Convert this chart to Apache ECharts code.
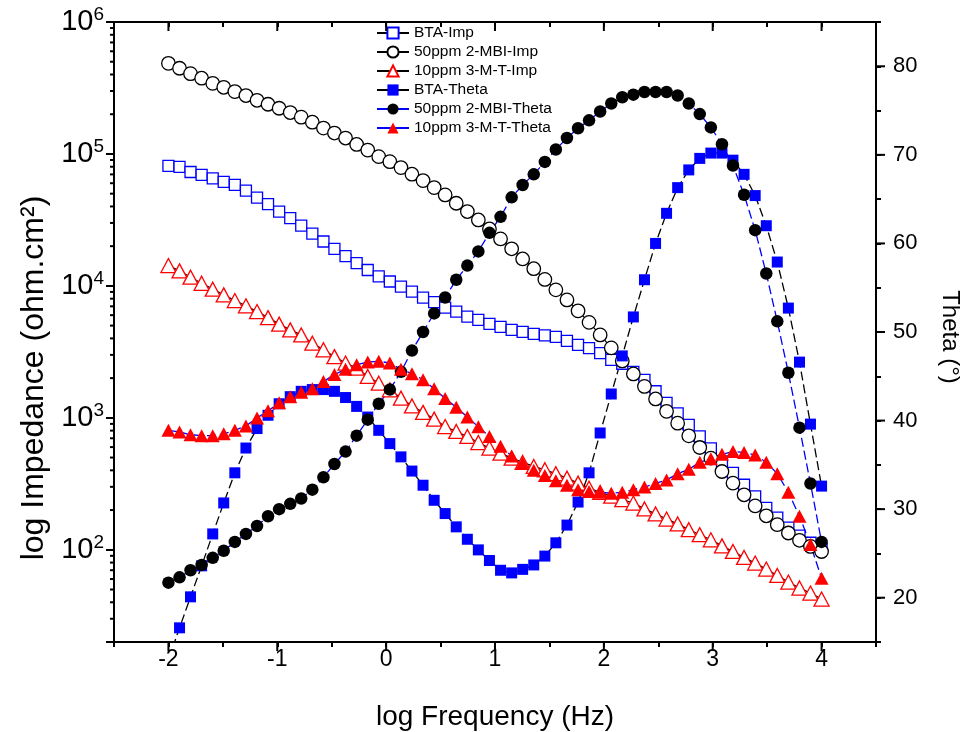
<!DOCTYPE html>
<html><head><meta charset="utf-8">
<script src="https://cdn.jsdelivr.net/npm/echarts@6/dist/echarts.min.js"></script>
<style>html,body{margin:0;padding:0;background:#fff}#c{width:966px;height:732px}</style>
</head><body><div id="c"></div>
<script>
// log10 of frequency (Hz), 60 points
const logFreq = [-2.000,-1.898,-1.797,-1.695,-1.593,-1.492,-1.390,-1.288,-1.186,-1.085,
  -0.983,-0.881,-0.780,-0.678,-0.576,-0.475,-0.373,-0.271,-0.169,-0.068,
  0.034,0.136,0.237,0.339,0.441,0.542,0.644,0.746,0.847,0.949,
  1.051,1.153,1.254,1.356,1.458,1.559,1.661,1.763,1.864,1.966,
  2.068,2.169,2.271,2.373,2.475,2.576,2.678,2.780,2.881,2.983,
  3.085,3.186,3.288,3.390,3.492,3.593,3.695,3.797,3.898,4.000];

// impedance (ohm.cm2)
const btaImp = [81200,79700,73000,69300,65200,61400,58300,52700,46700,41600,
  36600,32600,28600,24900,21700,19100,16800,14900,13200,11800,
  10800,9880,9050,8150,7520,6850,6390,5850,5530,5150,
  4890,4640,4480,4330,4220,4110,3830,3570,3370,3090,
  2750,2570,2230,1940,1590,1300,1080,885,724,587,
  468,383,311,254,208,175,147,128,113,102];
const mbiImp = [486000,446000,406000,375000,343000,320000,297000,277000,255000,238000,
  222000,206000,190000,174000,157000,144000,132000,118000,107000,95400,
  87400,78800,70200,62800,55600,48900,42300,36600,31600,27000,
  22700,19100,16000,13500,11200,9330,7830,6470,5290,4250,
  3390,2700,2150,1730,1390,1120,911,730,596,495,
  392,320,261,215,181,155,134,118,106,97];
const mtImp = [14250,12990,11630,10470,9440,8550,7740,7060,6390,5750,
  5130,4640,4250,3680,3280,2910,2600,2380,2060,1830,
  1630,1410,1230,1100,978,859,788,722,650,590,
  540,495,459,428,404,377,349,320,293,272,
  255,240,226,204,187,171,157,142,130,119,
  107,97.1,87.4,79.3,71.4,63.9,56.9,51.3,47.0,42.3];

// phase angle (degrees)
const btaTheta = [13.0,16.6,20.1,23.6,27.2,30.7,34.1,36.9,39.1,40.6,
  41.9,42.7,43.3,43.5,43.5,43.3,42.6,41.6,40.4,38.9,
  37.4,35.9,34.3,32.7,31.0,29.5,28.0,26.6,25.4,24.2,
  23.1,22.8,23.2,23.7,24.7,26.2,28.2,30.8,34.1,38.6,
  43.0,47.3,51.7,55.9,60.0,63.4,66.3,68.3,69.6,70.2,
  70.2,69.4,67.8,65.4,62.0,57.9,52.7,46.6,39.6,32.6];
const mbiTheta = [21.7,22.3,23.1,23.7,24.5,25.3,26.3,27.2,28.1,29.2,
  30.0,30.6,31.2,32.2,33.6,35.1,36.5,38.3,40.1,41.9,
  43.5,45.5,47.9,50.0,52.1,53.9,55.9,57.5,59.1,61.2,
  63.0,65.2,66.6,67.8,69.2,70.6,71.9,73.0,73.9,74.9,
  75.8,76.5,76.8,77.1,77.1,77.1,76.7,75.8,74.6,73.1,
  71.2,68.8,65.5,61.5,56.6,51.2,45.4,39.2,32.9,26.3];
const mtTheta = [38.9,38.7,38.4,38.3,38.3,38.5,38.9,39.4,40.3,41.1,
  42.0,42.7,43.2,43.6,44.4,45.2,45.8,46.3,46.6,46.7,
  46.5,45.8,45.3,44.6,43.6,42.5,41.5,40.4,39.3,38.2,
  37.1,36.0,35.2,34.4,33.8,33.2,32.7,32.2,32.0,31.9,
  31.8,31.9,32.2,32.5,32.9,33.3,34.0,34.5,35.3,35.7,
  36.2,36.5,36.4,36.1,35.3,34.0,31.9,29.2,26.0,22.2];

// axis tick values
const xMajorTicks = [-2,-1,0,1,2,3,4];
const impMinorTicks = [30,40,50,60,70,80,90,
  200,300,400,500,600,700,800,900,
  2000,3000,4000,5000,6000,7000,8000,9000,
  20000,30000,40000,50000,60000,70000,80000,90000,
  200000,300000,400000,500000,600000,700000,800000,900000];
const thetaMajorTicks = [20,30,40,50,60,70,80];

const X_MIN = -2.5, X_MAX = 4.5, IMP_MIN = 20, IMP_MAX = 1e6, TH_MIN = 15, TH_MAX = 85;
const FONT = "'Liberation Sans', Arial, sans-serif";

const pair = arr => logFreq.map((x, i) => [x, arr[i]]);

function lineSeries(name, arr, yIdx, symbol, size, fill, border, lineColor, dashed) {
  return {
    name, type: 'line', xAxisIndex: 0, yAxisIndex: yIdx, data: pair(arr),
    symbol, symbolSize: size, showSymbol: true,
    lineStyle: { color: lineColor, width: 1.3, type: dashed ? [9, 4] : 'solid' },
    itemStyle: { color: fill, borderColor: border, borderWidth: fill === '#fff' ? 1.3 : 0 },
    emphasis: { disabled: true }, z: 3
  };
}

// tick marks (kind 0: left minor, 1: bottom major, 2: top major)
const tickData = [];
impMinorTicks.forEach(v => tickData.push([X_MIN, v, 0]));
xMajorTicks.forEach(x => tickData.push([x, IMP_MIN, 1]));
xMajorTicks.forEach(x => tickData.push([x, IMP_MAX, 2]));
const thetaTickData = thetaMajorTicks.map(t => [X_MAX, t]);

const chart = echarts.init(document.getElementById('c'));
chart.setOption({
  animation: false,
  backgroundColor: '#fff',
  grid: { left: 114, top: 22, width: 762, height: 620, show: false, containLabel: false, outerBoundsMode: 'none' },
  legend: {
    data: ['BTA-Imp', '50ppm 2-MBI-Imp', '10ppm 3-M-T-Imp', 'BTA-Theta', '50ppm 2-MBI-Theta', '10ppm 3-M-T-Theta'],
    orient: 'vertical', left: 371, top: 20, itemWidth: 32, itemHeight: 14, itemGap: 3,
    textStyle: { fontFamily: FONT, fontSize: 15.5, color: '#000' },
    lineStyle: { type: 'solid' }, selectedMode: false
  },
  xAxis: [{
    type: 'value', min: X_MIN, max: X_MAX, interval: 0.5, position: 'bottom',
    name: 'log Frequency (Hz)', nameLocation: 'middle', nameGap: 61,
    nameTextStyle: { fontFamily: FONT, fontSize: 28, color: '#000' },
    axisLine: { onZero: false, lineStyle: { color: '#000', width: 2 } },
    axisTick: { inside: false, length: 5, lineStyle: { width: 2, color: '#000' } },
    axisLabel: { margin: 6, fontFamily: FONT, fontSize: 23, color: '#000',
      formatter: v => Number.isInteger(v) ? String(v) : '' },
    splitLine: { show: false }
  }, {
    type: 'value', min: X_MIN, max: X_MAX, interval: 0.5, position: 'top',
    axisLine: { onZero: false, lineStyle: { color: '#000', width: 2 } },
    axisTick: { inside: true, length: 5, lineStyle: { width: 2, color: '#000' } },
    axisLabel: { show: false }, splitLine: { show: false }
  }],
  yAxis: [{
    type: 'log', logBase: 10, min: IMP_MIN, max: IMP_MAX, position: 'left',
    name: 'log Impedance (ohm.cm²)', nameLocation: 'middle', nameGap: 64, nameRotate: 90,
    nameTextStyle: { fontFamily: FONT, fontSize: 32, color: '#000', padding: [0, 92, 0, 0] },
    axisLine: { onZero: false, lineStyle: { color: '#000', width: 2 } },
    axisTick: { inside: false, length: 8, lineStyle: { width: 2, color: '#000' } },
    axisLabel: { margin: 10, color: '#000',
      formatter: v => {
        const l = Math.log10(v), r = Math.round(l);
        return Math.abs(l - r) < 1e-6 ? '{b|10}{s|' + r + '}' : '';
      },
      rich: {
        b: { fontFamily: FONT, fontSize: 29, color: '#000' },
        s: { fontFamily: FONT, fontSize: 19, color: '#000', verticalAlign: 'bottom', padding: [0, 0, 14, 0] }
      }
    },
    splitLine: { show: false }
  }, {
    type: 'value', min: TH_MIN, max: TH_MAX, interval: 5, position: 'right',
    name: 'Theta (°)', nameLocation: 'middle', nameGap: 62, nameRotate: -90,
    nameTextStyle: { fontFamily: FONT, fontSize: 24, color: '#000', padding: [0, 0, 0, 10] },
    axisLine: { onZero: false, lineStyle: { color: '#000', width: 2 } },
    axisTick: { inside: false, length: 5, lineStyle: { width: 2, color: '#000' } },
    axisLabel: { margin: 17, fontFamily: FONT, fontSize: 22, color: '#000',
      formatter: v => (v % 10 === 0 ? String(v) : '') },
    splitLine: { show: false }
  }],
  series: [
    lineSeries('BTA-Imp', btaImp, 0, 'rect', 11, '#fff', '#0000ff', '#000', false),
    lineSeries('50ppm 2-MBI-Imp', mbiImp, 0, 'circle', 13.5, '#fff', '#000', '#000', false),
    lineSeries('10ppm 3-M-T-Imp', mtImp, 0, 'triangle', [15, 14], '#fff', '#ff0000', '#000', false),
    lineSeries('BTA-Theta', btaTheta, 1, 'rect', 11, '#0000ff', '#0000ff', '#000', true),
    lineSeries('50ppm 2-MBI-Theta', mbiTheta, 1, 'circle', 12.5, '#000', '#000', '#0000ff', true),
    lineSeries('10ppm 3-M-T-Theta', mtTheta, 1, 'triangle', [14, 13], '#ff0000', '#ff0000', '#0000ff', true),
    {
      name: 'ticks', type: 'custom', xAxisIndex: 0, yAxisIndex: 0, data: tickData,
      silent: true, clip: false, z: 10,
      renderItem: (params, api) => {
        const p = api.coord([api.value(0), api.value(1)]);
        const k = api.value(2);
        let shape;
        if (k === 0) shape = { x1: p[0] - 4, y1: p[1], x2: p[0], y2: p[1] };
        else if (k === 1) shape = { x1: p[0], y1: p[1], x2: p[0], y2: p[1] + 9 };
        else shape = { x1: p[0], y1: p[1], x2: p[0], y2: p[1] + 9 };
        return { type: 'line', shape, style: { stroke: '#000', lineWidth: 2 } };
      }
    },
    {
      name: 'thetaTicks', type: 'custom', xAxisIndex: 0, yAxisIndex: 1, data: thetaTickData,
      silent: true, clip: false, z: 10,
      renderItem: (params, api) => {
        const p = api.coord([api.value(0), api.value(1)]);
        return { type: 'line', shape: { x1: p[0], y1: p[1], x2: p[0] + 9, y2: p[1] },
          style: { stroke: '#000', lineWidth: 2 } };
      }
    }
  ]
});
</script></body></html>
